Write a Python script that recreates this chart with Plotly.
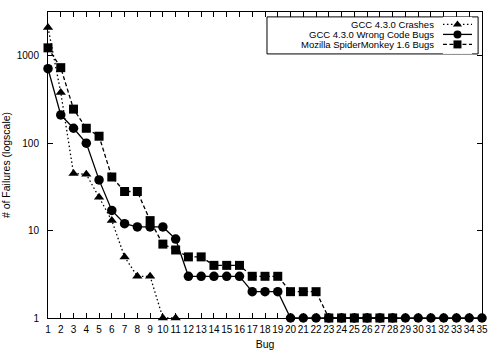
import plotly.graph_objects as go

# Failures per bug, sorted by frequency (log scale)
bugs_crash = list(range(1, 12))
crashes = [2100, 380, 45, 44, 24, 13, 5, 3, 3, 1, 1]

bugs_wrong = list(range(1, 36))
wrong_code = [710, 210, 148, 100, 38, 17, 12, 11, 11, 11, 8,
              3, 3, 3, 3, 3, 2, 2, 2] + [1] * 16

bugs_spider = list(range(1, 29))
spidermonkey = [1230, 730, 245, 148, 120, 41, 28, 28, 13, 7, 6,
                5, 5, 4, 4, 4, 3, 3, 3, 2, 2, 2] + [1] * 6

names = ["GCC 4.3.0 Crashes", "GCC 4.3.0 Wrong Code Bugs", "Mozilla SpiderMonkey 1.6 Bugs"]
symbols = ["triangle-up", "circle", "square"]
dashes = ["1.5px,2.5px", "solid", "4px,2.5px"]
sizes = [9, 9.5, 9]

x_ticks = list(range(1, 36))
y_ticks = [1, 10, 100, 1000]

FONT = "Liberation Sans, Arial, sans-serif"

fig = go.Figure()

series = [(bugs_crash, crashes), (bugs_wrong, wrong_code), (bugs_spider, spidermonkey)]
for (xs, ys), name, sym, dash, sz in zip(series, names, symbols, dashes, sizes):
    fig.add_trace(go.Scatter(
        x=xs, y=ys, name=name, mode="lines+markers",
        line=dict(color="black", width=1.3, dash=dash),
        marker=dict(symbol=sym, size=sz, color="black"),
        cliponaxis=False, showlegend=False,
    ))

# Hand-built legend: right-aligned labels with line samples on the right
leg_rows = [0.797, 0.527, 0.257]
for name, sym, dash, row in zip(names, symbols, dashes, leg_rows):
    fig.add_trace(go.Scatter(
        x=[0, 0.5, 1], y=[row, row, row], mode="lines",
        line=dict(color="black", width=1.3, dash=dash),
        xaxis="x2", yaxis="y2", showlegend=False, hoverinfo="skip", cliponaxis=False,
    ))
    fig.add_trace(go.Scatter(
        x=[0.5], y=[row], mode="markers",
        marker=dict(symbol=sym, size=8, color="black"),
        xaxis="x2", yaxis="y2", showlegend=False, hoverinfo="skip", cliponaxis=False,
    ))

ann_y = [0.959, 0.9265, 0.894]
annotations = [
    dict(text=name, x=0.894, y=y, xref="paper", yref="paper", xanchor="right",
         yanchor="middle", showarrow=False, font=dict(size=9.5, color="black", family=FONT))
    for name, y in zip(names, ann_y)
]

fig.update_layout(
    width=500, height=350,
    margin=dict(l=48, r=18, t=12, b=32),
    paper_bgcolor="white", plot_bgcolor="white",
    font=dict(family=FONT, size=10, color="black"),
    annotations=annotations,
    shapes=[dict(type="rect", xref="paper", yref="paper",
                 x0=0.5046, x1=0.991, y0=0.863, y1=0.984,
                 line=dict(color="black", width=1), fillcolor="white", layer="below")],
    xaxis=dict(
        range=[1, 35], tickvals=x_ticks, ticktext=[str(v) for v in x_ticks],
        ticks="inside", ticklen=5, tickcolor="black", showline=True, linecolor="black",
        linewidth=1, mirror="ticks", showgrid=False, zeroline=False,
        ticklabelstandoff=2, automargin=False, tickangle=0,
        title=dict(text="Bug", standoff=8, font=dict(size=10.5)),
        tickfont=dict(size=10),
    ),
    yaxis=dict(
        type="log", range=[0, 3.5], tickvals=y_ticks, ticktext=[str(v) for v in y_ticks],
        ticks="inside", ticklen=5, tickcolor="black", showline=True, linecolor="black",
        linewidth=1, mirror="ticks", showgrid=False, zeroline=False,
        ticklabelstandoff=6, automargin=False,
        title=dict(text="# of Failures (logscale)", standoff=6, font=dict(size=10.5)),
        tickfont=dict(size=10),
    ),
    xaxis2=dict(domain=[0.910, 0.977], range=[0, 1], anchor="y2", visible=False, fixedrange=True),
    yaxis2=dict(domain=[0.863, 0.984], range=[0, 1], anchor="x2", visible=False, fixedrange=True),
)

fig.write_html("out.html")
